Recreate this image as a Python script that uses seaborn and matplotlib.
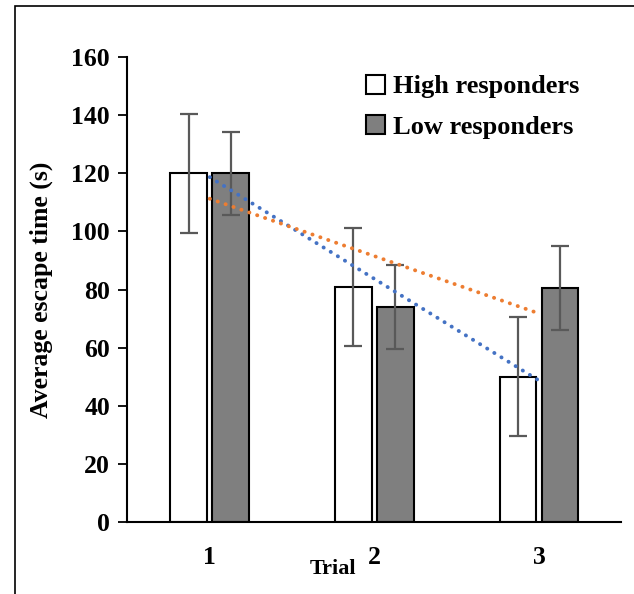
import numpy as np
import pandas as pd
import matplotlib
matplotlib.use("Agg")
import matplotlib.pyplot as plt
from matplotlib.patches import Patch, Rectangle
import seaborn as sns

# values
trials = ["1", "2", "3"]
groups = ["High responders", "Low responders"]
high_mean = [120, 81, 50]
low_mean = [120, 74, 80.5]
high_err = [20.4, 20.3, 20.4]
low_err = [14.3, 14.4, 14.4]

bar_colors = {"High responders": "white", "Low responders": "#7f7f7f"}
trend_colors = {"High responders": "#4472c4", "Low responders": "#ed7d31"}

df = pd.DataFrame({
    "trial": trials * 2,
    "group": [groups[0]] * 3 + [groups[1]] * 3,
    "mean": high_mean + low_mean,
})
errs = {groups[0]: high_err, groups[1]: low_err}
means = {groups[0]: high_mean, groups[1]: low_mean}

sns.set_style("white")
plt.rcParams["font.family"] = ["Liberation Serif", "DejaVu Serif"]
plt.rcParams["font.weight"] = "bold"
plt.rcParams["text.color"] = "black"
plt.rcParams["axes.labelcolor"] = "black"
plt.rcParams["xtick.color"] = "black"
plt.rcParams["ytick.color"] = "black"

fig = plt.figure(figsize=(6.34, 5.94), dpi=100)
ax = fig.add_axes([0.201, 0.1212, 0.779, 0.7828])

sns.barplot(data=df, x="trial", y="mean", hue="group", hue_order=groups,
            palette=bar_colors, width=0.51, gap=0.12, errorbar=None,
            edgecolor="black", linewidth=1.5, ax=ax, zorder=2)

# error bars on top of each bar
for cont, g in zip(ax.containers, groups):
    xs = [p.get_x() + p.get_width() / 2 for p in cont.patches]
    ax.errorbar(xs, means[g], yerr=errs[g], fmt="none", ecolor="#595959",
                elinewidth=1.6, capsize=6.3, capthick=1.6, zorder=3)

# linear trend lines (Excel style, dotted)
xpos = np.arange(len(trials))
for g in groups:
    k, b = np.polyfit(xpos, means[g], 1)
    ax.plot(xpos, k * xpos + b, color=trend_colors[g], lw=2.8,
            linestyle=(0, (0.05, 2.1)), dash_capstyle="round", zorder=4)

ax.set_xlim(-0.5, 2.5)
ax.set_ylim(0, 160)
ax.set_yticks(range(0, 161, 20))
for s in ["top", "right"]:
    ax.spines[s].set_visible(False)
for s in ["left", "bottom"]:
    ax.spines[s].set_color("black")
    ax.spines[s].set_linewidth(1.5)
ax.tick_params(axis="y", direction="out", length=6.5, width=1.3, pad=6,
               labelsize=18.5, left=True, color="black", labelcolor="black")
ax.tick_params(axis="x", length=0, pad=17, labelsize=18.5, labelcolor="black")

ax.set_ylabel("Average escape time (s)", fontsize=18.5, fontweight="bold", labelpad=13)
ax.set_xlabel("Trial", fontsize=16, fontweight="bold")
ax.xaxis.set_label_coords(0.416, -0.08)

handles = [Patch(facecolor=bar_colors[g], edgecolor="black", linewidth=1.5) for g in groups]
ax.legend(handles, groups, loc="upper left", bbox_to_anchor=(0.483, 0.962),
          frameon=False, fontsize=19, handlelength=0.72, handleheight=0.72,
          handletextpad=0.3, labelspacing=0.65, borderpad=0, borderaxespad=0,
          labelcolor="black")

# outer frame of the original figure
fig.add_artist(Rectangle((14.6 / 634, -0.1), 1.2, 588 / 594 + 0.1,
                         transform=fig.transFigure, fill=False,
                         edgecolor="black", linewidth=1.2))

fig.savefig("out.png", dpi=100)
